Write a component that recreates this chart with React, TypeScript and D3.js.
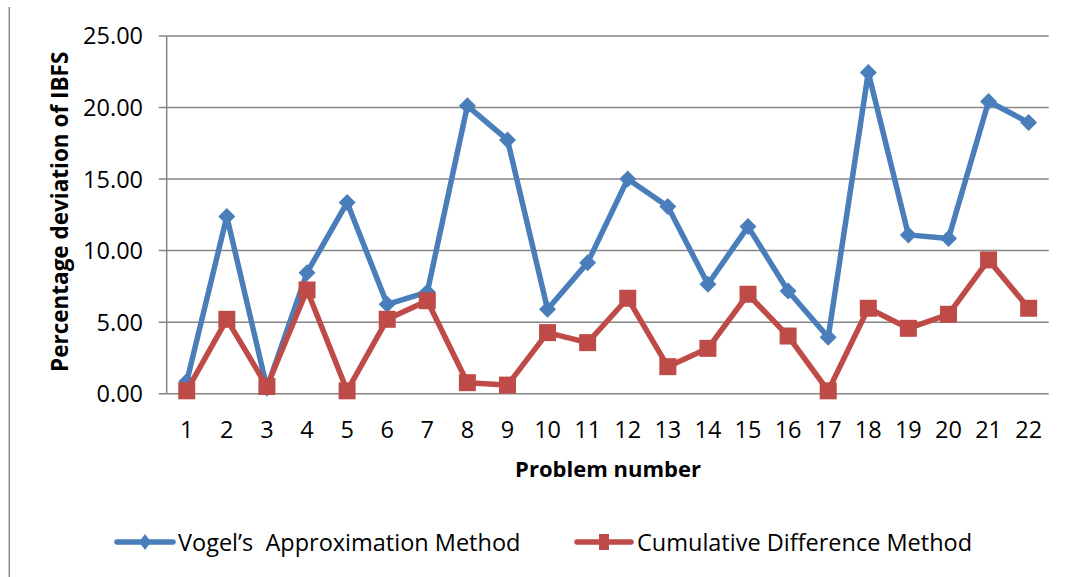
import React from "react";
import * as d3 from "d3";

// Problem numbers along the category axis
const problems: string[] = Array.from({ length: 22 }, (_, i) => String(i + 1));

// Percentage deviation of the initial basic feasible solution
const vogelValues: number[] = [
  0.85, 12.38, 0.4, 8.46, 13.36, 6.25, 7.1, 20.12, 17.74, 5.9, 9.16,
  15.01, 13.08, 7.65, 11.68, 7.18, 3.94, 22.45, 11.1, 10.84, 20.42, 18.95,
];
const cumulativeValues: number[] = [
  0.2, 5.2, 0.5, 7.25, 0.2, 5.2, 6.5, 0.77, 0.6, 4.27, 3.57,
  6.67, 1.89, 3.17, 6.95, 4.03, 0.2, 5.97, 4.57, 5.55, 9.35, 5.97,
];

const yTicks: number[] = [0, 5, 10, 15, 20, 25];

const seriesNames: string[] = [
  "Vogel\u2019s  Approximation Method",
  "Cumulative Difference Method",
];

const WIDTH = 1071;
const HEIGHT = 577;
const BLUE = "#4a7ebb";
const RED = "#be4b48";
const GRID = "#868686";
const FONT = "'Open Sans', 'Noto Sans', sans-serif";
const LABEL_SIZE = 23.5;

const plot = { left: 166.7, right: 1048.7, top: 36, bottom: 393.7 };

export default function App() {
  const x = d3
    .scalePoint<string>()
    .domain(problems)
    .range([plot.left, plot.right])
    .padding(0.5);
  const y = d3.scaleLinear().domain([0, 25]).range([plot.bottom, plot.top]);

  const line = d3
    .line<number>()
    .x((_, i) => x(problems[i]) as number)
    .y((d) => y(d));

  const diamond = (cx: number, cy: number, rx: number, ry: number) =>
    `M${cx},${cy - ry}L${cx + rx},${cy}L${cx},${cy + ry}L${cx - rx},${cy}Z`;

  const legendY = 542;
  const legendItems = [
    { name: seriesNames[0], color: BLUE, x0: 117, x1: 173, tx: 178, kind: "diamond" },
    { name: seriesNames[1], color: RED, x0: 577, x1: 631, tx: 637, kind: "square" },
  ];

  return (
    <svg
      width={WIDTH}
      height={HEIGHT}
      style={{ position: "absolute", left: 0, top: 0, background: "#fff" }}
      fontFamily={FONT}
    >
      <rect x={0} y={0} width={WIDTH} height={HEIGHT} fill="#fff" />
      {/* outer frame edge */}
      <line x1={9.3} x2={9.3} y1={7} y2={HEIGHT} stroke="#8c8c8c" strokeWidth={1.5} />

      {/* horizontal gridlines */}
      {yTicks.map((t) => (
        <g key={t}>
          <line
            x1={plot.left - 8}
            x2={plot.right}
            y1={y(t)}
            y2={y(t)}
            stroke={GRID}
            strokeWidth={1.5}
          />
          <text
            x={143}
            y={y(t)}
            dy="0.36em"
            textAnchor="end"
            fontSize={LABEL_SIZE}
            fill="#000"
          >
            {t.toFixed(2)}
          </text>
        </g>
      ))}

      {/* value axis line */}
      <line
        x1={plot.left}
        x2={plot.left}
        y1={plot.top}
        y2={plot.bottom}
        stroke={GRID}
        strokeWidth={1.5}
      />

      {/* category labels */}
      {problems.map((p) => (
        <text
          key={p}
          x={x(p) as number}
          y={438}
          textAnchor="middle"
          fontSize={LABEL_SIZE}
          fill="#000"
        >
          {p}
        </text>
      ))}

      {/* axis titles */}
      <text
        x={608}
        y={477}
        textAnchor="middle"
        fontSize={22}
        fontWeight="bold"
        fill="#000"
      >
        Problem number
      </text>
      <text
        transform={`translate(68,${(plot.top + plot.bottom) / 2 - 3}) rotate(-90)`}
        textAnchor="middle"
        fontSize={22.5}
        fontWeight="bold"
        fill="#000"
      >
        Percentage deviation of IBFS
      </text>

      {/* Vogel series */}
      <path
        d={line(vogelValues) ?? ""}
        fill="none"
        stroke={BLUE}
        strokeWidth={5.5}
        strokeLinejoin="round"
      />
      {vogelValues.map((v, i) => (
        <path
          key={`v${i}`}
          d={diamond(x(problems[i]) as number, y(v), 8.5, 8.5)}
          fill={BLUE}
        />
      ))}

      {/* Cumulative difference series */}
      <path
        d={line(cumulativeValues) ?? ""}
        fill="none"
        stroke={RED}
        strokeWidth={5.5}
        strokeLinejoin="round"
      />
      {cumulativeValues.map((v, i) => (
        <rect
          key={`c${i}`}
          x={(x(problems[i]) as number) - 8.5}
          y={y(v) - 8.5}
          width={17}
          height={17}
          fill={RED}
        />
      ))}

      {/* legend */}
      {legendItems.map((it) => {
        const mx = (it.x0 + it.x1) / 2;
        return (
          <g key={it.name}>
            <line
              x1={it.x0}
              x2={it.x1}
              y1={legendY}
              y2={legendY}
              stroke={it.color}
              strokeWidth={5.5}
              strokeLinecap="round"
            />
            {it.kind === "diamond" ? (
              <path d={diamond(mx, legendY, 6, 8)} fill={it.color} />
            ) : (
              <rect x={mx - 5} y={legendY - 8} width={10} height={16} fill={it.color} />
            )}
            <text
              x={it.tx}
              y={551}
              fontSize={LABEL_SIZE}
              fill="#000"
              style={{ whiteSpace: "pre" }}
            >
              {it.name}
            </text>
          </g>
        );
      })}
    </svg>
  );
}
